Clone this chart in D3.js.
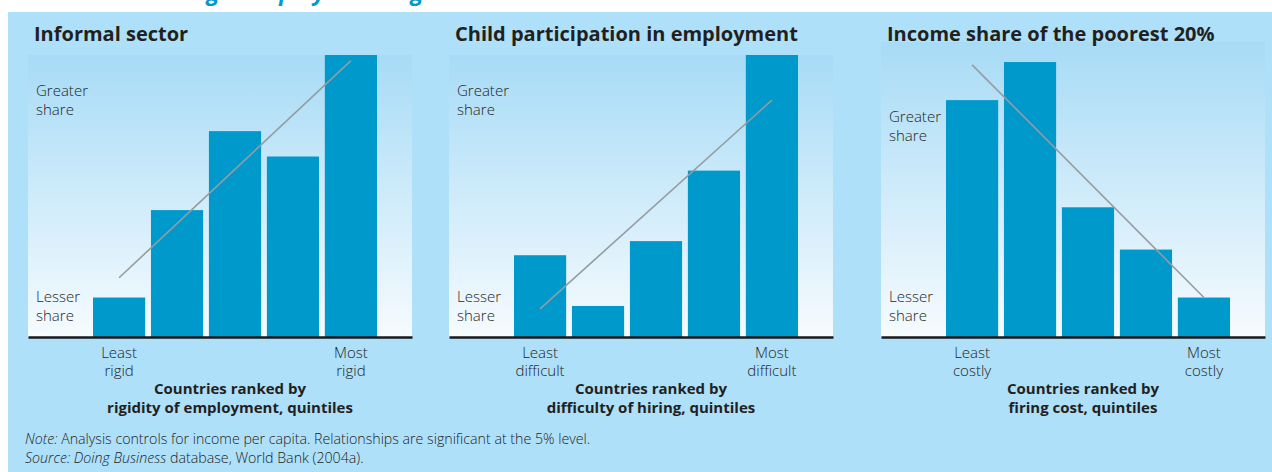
<!DOCTYPE html>
<html>
<head>
<meta charset="utf-8">
<script src="https://cdn.jsdelivr.net/npm/d3@7"></script>
<style>
    html, body { margin: 0; padding: 0; background: #fff; }
    svg text { font-family: "Open Sans", "Noto Sans", sans-serif; fill: #231f20; }
    .title { font-weight: 700; font-size: 20px; }
    .share, .tick-label { font-weight: 300; font-size: 15px; fill: #1e1e1e; }
    .axis-title { font-weight: 700; font-size: 15px; }
    .note { font-weight: 300; font-size: 14.2px; fill: #1e1e1e; }
    .heading { font-weight: 700; font-style: italic; font-size: 23px; fill: #0099cc; }
</style>
</head>
<body>
<div id="chart"></div>
<script>
// ---- data (relative share, 0-100) ----
const quintiles = ['Q1', 'Q2', 'Q3', 'Q4', 'Q5'];

const titles = ['Informal sector', 'Child participation in employment', 'Income share of the poorest 20%'];

const informalShare = [14, 45, 73, 64, 100];
const childShare = [29, 11, 34, 59, 100];
const incomeShare = [84, 97.5, 46, 31, 14];

// trend line value at first and last quintile
const informalTrend = [21, 98];
const childTrend = [10, 84];
const incomeTrend = [96.5, 14];

const lowTicks = [['Least', 'rigid'], ['Least', 'difficult'], ['Least', 'costly']];
const highTicks = [['Most', 'rigid'], ['Most', 'difficult'], ['Most', 'costly']];

const axisTitles = [
    ['Countries ranked by', 'rigidity of employment, quintiles'],
    ['Countries ranked by', 'difficulty of hiring, quintiles'],
    ['Countries ranked by', 'firing cost, quintiles']
];

const greaterLabel = ['Greater', 'share'];
const lesserLabel = ['Lesser', 'share'];

const width = 1272, height = 472;

const svg = d3.select('#chart')
    .append('svg')
    .attr('width', width).attr('height', height);

// background gradient for the plot areas
const defs = svg.append('defs');
const grad = defs.append('linearGradient')
    .attr('id', 'plotGrad')
    .attr('x1', 0).attr('y1', 0).attr('x2', 0).attr('y2', 1);
grad.append('stop').attr('offset', '0%').attr('stop-color', '#a7dbf6');
grad.append('stop').attr('offset', '100%').attr('stop-color', '#f6fbfe');

// cut-off heading of the figure (only its descenders show)
svg.append('text')
    .classed('heading', true)
    .attr('x', 186).attr('y', 0)
    .text('Rigid employment regulation');

// light blue box
svg.append('rect')
    .attr('x', 8).attr('y', 12)
    .attr('width', width - 8).attr('height', height - 12)
    .attr('fill', '#aee0f9');

/**
 * One quintile bar panel
 */
class QuintilePanel {

    constructor(parent, left, top) {
        this.left = left;          // left edge of plot area
        this.top = top;            // top edge of gradient
        this.base = 337;           // baseline y
        this.g = parent.append('g');
    }

    //--- render ----------------------------------------------------------
    // draws the gradient, bars, trend line, axis and labels
    render(values, trend, opts) {
        const plotW = 384;
        const scaleX = d3.scaleBand()
            .domain(quintiles)
            .range([this.left + 65, this.left + 349])
            .paddingInner(0.1).paddingOuter(0);
        const scaleY = d3.scaleLinear()
            .domain([0, 100])
            .range([this.base, 55]);

        this.g.append('rect')
            .attr('x', this.left).attr('y', this.top)
            .attr('width', plotW).attr('height', this.base - this.top)
            .attr('fill', 'url(#plotGrad)');

        this.g.selectAll('rect.bar')
            .data(values)
            .join('rect')
            .classed('bar', true)
            .attr('x', (d, i) => scaleX(quintiles[i]))
            .attr('y', d => scaleY(d))
            .attr('width', scaleX.bandwidth())
            .attr('height', d => scaleY(0) - scaleY(d))
            .attr('fill', '#0099cc');

        // trend line
        const ends = [quintiles[0], quintiles[quintiles.length - 1]];
        const line = d3.line()
            .x(d => scaleX(d[0]) + scaleX.bandwidth() / 2)
            .y(d => scaleY(d[1]));
        this.g.append('path')
            .datum(ends.map((q, i) => [q, trend[i]]))
            .attr('fill', 'none')
            .attr('stroke', '#959ca0')
            .attr('stroke-width', 1.6)
            .attr('d', line);

        // baseline axis
        const axis = d3.axisBottom(d3.scaleLinear().range([this.left, this.left + plotW]))
            .tickValues([]).tickSizeOuter(0);
        this.g.append('g')
            .attr('transform', `translate(0,${this.base})`)
            .call(axis)
            .call(a => a.select('.domain').attr('stroke', '#1a1a1a').attr('stroke-width', 2.6));

        // title
        this.g.append('text')
            .classed('title', true)
            .attr('x', this.left + 6).attr('y', 41)
            .text(opts.title);

        // share labels
        const shareLabel = (lines, y) => {
            const t = this.g.append('text').classed('share', true)
                .attr('x', this.left + 8).attr('y', y);
            lines.forEach((s, i) => t.append('tspan')
                .attr('x', this.left + 8).attr('dy', i ? 18.5 : 0).text(s));
        };
        shareLabel(greaterLabel, opts.greaterY);
        shareLabel(lesserLabel, 302);

        // tick labels under first and last bars
        [[ends[0], opts.low], [ends[1], opts.high]].forEach(([q, lines]) => {
            const cx = scaleX(q) + scaleX.bandwidth() / 2;
            const t = this.g.append('text').classed('tick-label', true)
                .attr('text-anchor', 'middle').attr('y', 358);
            lines.forEach((s, i) => t.append('tspan')
                .attr('x', cx).attr('dy', i ? 18 : 0).text(s));
        });

        // axis title
        const mid = this.left + 202;
        const at = this.g.append('text').classed('axis-title', true)
            .attr('text-anchor', 'middle').attr('y', 394);
        opts.axisTitle.forEach((s, i) => at.append('tspan')
            .attr('x', mid).attr('dy', i ? 19 : 0).text(s));

        return this;
    }
}

const panelData = [
    { values: informalShare, trend: informalTrend, left: 28, top: 55, greaterY: 96 },
    { values: childShare, trend: childTrend, left: 449, top: 55, greaterY: 96 },
    { values: incomeShare, trend: incomeTrend, left: 881, top: 42, greaterY: 122 }
];

panelData.forEach((p, i) => {
    new QuintilePanel(svg, p.left, p.top).render(p.values, p.trend, {
        title: titles[i],
        low: lowTicks[i],
        high: highTicks[i],
        axisTitle: axisTitles[i],
        greaterY: p.greaterY
    });
});

// notes
const note = svg.append('text').classed('note', true).attr('x', 25).attr('y', 444);
note.append('tspan').style('font-style', 'italic').text('Note:');
note.append('tspan').text(' Analysis controls for income per capita. Relationships are significant at the 5% level.');

const source = svg.append('text').classed('note', true).attr('x', 25).attr('y', 463);
source.append('tspan').style('font-style', 'italic').text('Source: Doing Business');
source.append('tspan').text(' database, World Bank (2004a).');
</script>
</body>
</html>
